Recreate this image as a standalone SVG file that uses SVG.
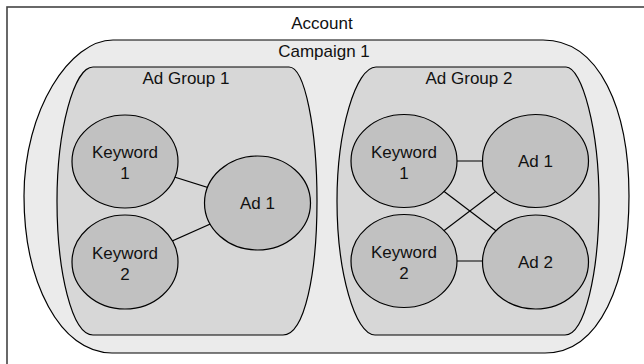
<svg xmlns="http://www.w3.org/2000/svg" width="644" height="364" viewBox="0 0 644 364">
<style>
text{font-family:"Liberation Sans",Arial,Helvetica,sans-serif;font-size:17px;fill:#111;text-anchor:middle}
.camp{fill:#ebebeb;stroke:#000;stroke-width:1.2}
.grp{fill:#d7d7d7;stroke:#000;stroke-width:1.2}
.node{fill:#c1c1c1;stroke:#000;stroke-width:1.2}
.edge{stroke:#000;stroke-width:1.2;fill:none}
</style>
<rect x="0" y="0" width="644" height="364" fill="#fff"/>
<g id="account">
<rect x="7" y="7" width="700" height="420" fill="#fff" stroke="#444" stroke-width="1.6"/>
<text x="322" y="29">Account</text>
</g>
<g id="campaign1">
<path class="camp" d="M113,40 H543 C600,40 629,110 629,196 C629,282 600,353 545,353 H112 C60,353 24,282 24,196 C24,110 70,40 113,40 Z"/>
<text x="324" y="57">Campaign 1</text>
</g>
<g id="adgroup1">
<path class="grp" d="M93,67 H289 C305,67 317,130 317,201 C317,272 305,335 283,335 H93 C72,335 57,272 57,201 C57,130 74,67 93,67 Z"/>
<text x="186" y="84">Ad Group 1</text>
</g>
<g id="adgroup2">
<path class="grp" d="M376,67 H566 C582,67 599,130 599,201 C599,272 585,335 565,335 H375 C355,335 337,272 337,201 C337,130 356,67 376,67 Z"/>
<text x="469" y="84">Ad Group 2</text>
</g>
<g id="connectors">
<line class="edge" x1="125" y1="161.5" x2="257.5" y2="203"/>
<line class="edge" x1="125" y1="262" x2="257.5" y2="203"/>
<line class="edge" x1="404" y1="161" x2="535.5" y2="161"/>
<line class="edge" x1="404" y1="261" x2="535.5" y2="261"/>
<line class="edge" x1="404" y1="161" x2="535.5" y2="261"/>
<line class="edge" x1="404" y1="261" x2="535.5" y2="161"/>
</g>
<g id="ag1-keyword1">
<ellipse class="node" cx="125" cy="161.5" rx="53" ry="46.5"/>
<text x="125" y="158">Keyword</text>
<text x="125" y="179">1</text>
</g>
<g id="ag1-keyword2">
<ellipse class="node" cx="125" cy="262" rx="53" ry="47"/>
<text x="125" y="258.5">Keyword</text>
<text x="125" y="280">2</text>
</g>
<g id="ag1-ad1">
<ellipse class="node" cx="257.5" cy="203" rx="53" ry="47"/>
<text x="257.5" y="209">Ad 1</text>
</g>
<g id="ag2-keyword1">
<ellipse class="node" cx="404" cy="161" rx="53" ry="46.5"/>
<text x="404" y="157.5">Keyword</text>
<text x="404" y="178.5">1</text>
</g>
<g id="ag2-keyword2">
<ellipse class="node" cx="404" cy="261" rx="53" ry="46.5"/>
<text x="404" y="257.5">Keyword</text>
<text x="404" y="279">2</text>
</g>
<g id="ag2-ad1">
<ellipse class="node" cx="535.5" cy="161" rx="53" ry="46.5"/>
<text x="535.5" y="167">Ad 1</text>
</g>
<g id="ag2-ad2">
<ellipse class="node" cx="535.5" cy="262" rx="53" ry="47"/>
<text x="535.5" y="268">Ad 2</text>
</g>
</svg>
